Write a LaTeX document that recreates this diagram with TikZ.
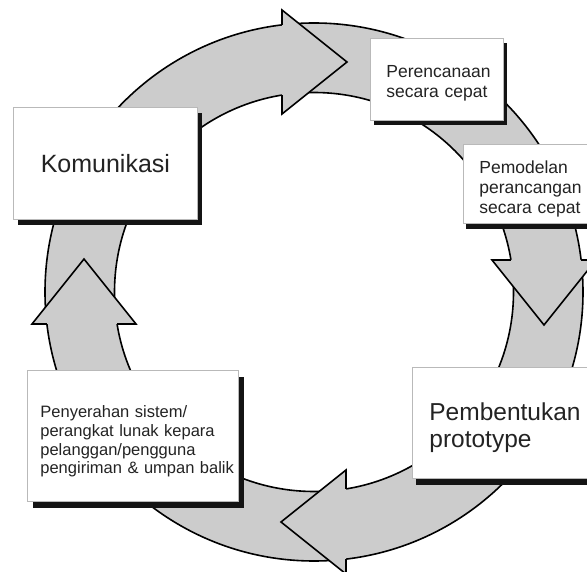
\documentclass[tikz,border=0pt]{standalone}
\usepackage{fontspec}
\setmainfont{Liberation Sans}
\usetikzlibrary{shadows}
\definecolor{ringgray}{RGB}{204,204,204}
\definecolor{txt}{RGB}{35,35,35}
\definecolor{boxline}{RGB}{185,185,185}
\begin{document}
\begin{tikzpicture}[x=1pt,y=1pt,
  ring/.style={line width=1.6pt, line join=miter},
  boxnode/.style={draw=boxline, line width=0.8pt, fill=white, text=txt,
    anchor=north west, inner ysep=0pt},
  shad/.style 2 args={general shadow={fill=black!92, shadow xshift=#1pt, shadow yshift=-#2pt}}]
\useasboundingbox (0,0) rectangle (587,571);
\clip (0,0) rectangle (587,571);
\coordinate (c) at (314,279);
% ring band
\fill[ringgray, even odd rule] (c) circle[radius=269] (c) circle[radius=199.5];
\draw[ring] (c) circle[radius=269];
\draw[ring] (c) circle[radius=199.5];
% four arrowheads (clockwise)
\foreach \r in {0,-90,-180,-270} {
  \begin{scope}[shift={(c)}, rotate=\r]
    \fill[ringgray] (-32,267.09) -- (-32,282) -- (33,230) -- (-32,178) -- (-32,196.92) -- cycle;
    \draw[ring] (-32,267.09) -- (-32,282) -- (33,230) -- (-32,178) -- (-32,196.92);
  \end{scope}
}
% boxes
\node[boxnode, shad={5}{6}, minimum width=184, minimum height=112, align=center,
  font=\fontsize{25}{28}\selectfont] (kom) at (13,464) {Komunikasi};
\node[boxnode, shad={3.5}{5}, minimum width=133, minimum height=82, inner xsep=16,
  text width=101, align=left, font=\fontsize{17.5}{20}\selectfont] (per) at (370,533)
  {\rule{0pt}{19.5pt}\mbox{Perencanaan}\\\mbox{secara cepat}};
\node[boxnode, shad={3}{5.5}, minimum width=140, minimum height=79, inner xsep=16,
  text width=108, align=left, font=\fontsize{17.5}{20}\selectfont] (pem) at (463,427)
  {\rule{0pt}{22pt}\mbox{Pemodelan}\\\mbox{perancangan}\\\mbox{secara cepat}};
\node[boxnode, shad={4}{7}, minimum width=190, minimum height=111, inner xsep=17,
  text width=156, align=left, font=\fontsize{24.5}{27}\selectfont] (pbt) at (412,204)
  {\rule{0pt}{27.4pt}\mbox{Pembentukan}\\\mbox{prototype}};
\node[boxnode, shad={5.5}{7}, minimum width=211, minimum height=131, inner xsep=13,
  text width=185, align=left, font=\fontsize{16.5}{18.7}\selectfont] (pny) at (27,201)
  {\rule{0pt}{23pt}\mbox{Penyerahan sistem/}\\\mbox{perangkat lunak kepara}\\\mbox{pelanggan/pengguna}\\\mbox{pengiriman \& umpan balik}};
\end{tikzpicture}
\end{document}
